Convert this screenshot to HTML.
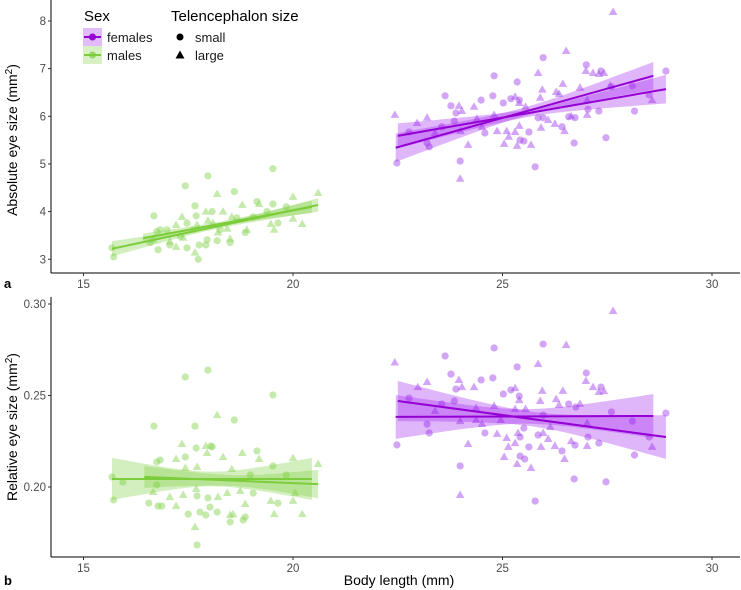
<!DOCTYPE html>
<html><head><meta charset="utf-8"><style>
html,body{margin:0;padding:0;background:#fff;}
svg{display:block;font-family:"Liberation Sans",sans-serif;}
</style></head><body>
<svg id="chart" width="741" height="590" viewBox="0 0 741 590" xmlns="http://www.w3.org/2000/svg">
<g id="legend">
  <text x="84" y="21" font-size="15" fill="#000">Sex</text>
  <g>
    <rect x="83" y="28" width="19" height="18" fill="#a020f0" fill-opacity="0.3"/>
    <line x1="84" y1="37" x2="101" y2="37" stroke="#9400d3" stroke-width="2"/>
    <circle cx="92.5" cy="37" r="3.5" fill="#9400d3"/>
    <text x="107" y="42" font-size="13" fill="#1a1a1a">females</text>
  </g>
  <g>
    <rect x="83" y="46" width="19" height="18" fill="#7ccd3c" fill-opacity="0.3"/>
    <line x1="84" y1="55" x2="101" y2="55" stroke="#7ccd3c" stroke-width="2"/>
    <circle cx="92.5" cy="55" r="3.5" fill="#7ccd3c" fill-opacity="0.7"/>
    <text x="107" y="60" font-size="13" fill="#1a1a1a">males</text>
  </g>
  <text x="171" y="21" font-size="15" fill="#000">Telencephalon size</text>
  <g>
    <circle cx="180" cy="37" r="3.5" fill="#000"/>
    <text x="195" y="42" font-size="13" fill="#1a1a1a">small</text>
  </g>
  <g>
    <polygon points="180,50.5 184.5,58.5 175.5,58.5" fill="#000"/>
    <text x="195" y="60" font-size="13" fill="#1a1a1a">large</text>
  </g>
</g>
<text x="4" y="288" font-size="13" font-weight="bold">a</text>
<text x="4" y="585" font-size="13" font-weight="bold">b</text>
<text transform="translate(17,140) rotate(-90)" text-anchor="middle" font-size="14" fill="#000">Absolute eye size (mm<tspan dy="-5" font-size="10">2</tspan><tspan dy="5">)</tspan></text>
<text transform="translate(17,427) rotate(-90)" text-anchor="middle" font-size="14" fill="#000">Relative eye size (mm<tspan dy="-5" font-size="10">2</tspan><tspan dy="5">)</tspan></text>
<text x="399" y="585" text-anchor="middle" font-size="14" fill="#000">Body length (mm)</text>
</svg>
<script>
// ---------- data ----------
const xTicks = [15, 20, 25, 30];
const yTicksTop = [3, 4, 5, 6, 7, 8];
const yTicksBot = [0.20, 0.25, 0.30];
const yTickLabelsBot = ["0.20", "0.25", "0.30"];

// top panel (absolute eye size)
const femSmallTopX = [22.48,22.77,23.2,23.25,23.55,23.63,23.77,23.85,23.89,23.99,24.49,24.58,24.77,24.8,25.02,25.2,25.35,25.4,25.42,25.51,25.63,25.78,25.85,25.97,25.97,26.42,26.58,26.71,26.73,27,27.04,27.3,27.35,27.47,27.6,28.1,28.15,28.5,28.9];
const femSmallTopY = [5.02,5.67,5.44,5.36,5.78,6.43,6.22,5.9,6.07,5.06,6.34,5.65,6.43,6.85,6.28,6.37,6.72,6.34,5.5,5.48,5.67,4.94,5.97,7.23,5.97,5.78,5.99,5.44,5.97,7.08,6.15,6.11,6.95,5.55,6.62,6.64,6.11,6.45,6.95];
const femLargeTopX = [22.43,22.96,23.2,23.39,23.96,24.03,24.0,24.18,23.99,24.32,24.39,24.51,24.8,24.87,25.04,25.1,25.15,25.3,25.3,25.35,25.4,25.4,25.55,25.68,25.85,25.9,25.95,25.92,26.09,26.25,26.28,26.35,26.44,26.48,26.52,26.64,26.85,26.99,27.02,27.02,27.16,27.3,27.42,27.64,27.57,28.57];
const femLargeTopY = [6.03,5.86,5.97,5.65,6.22,6.11,5.69,5.4,4.69,6.2,5.95,5.78,6.03,5.69,5.42,5.69,5.57,5.67,6.41,5.38,6.28,5.8,6.2,5.4,6.91,6.39,6.56,5.76,5.92,5.84,6.51,6.47,6.68,5.69,7.37,6.0,6.6,6.95,6.34,6.03,6.91,6.89,6.91,8.19,6.64,6.34];
const malSmallTopX = [15.68,15.72,16.68,17.43,17.66,17.97,18.6,19.52,19.14,17.69,18.07,16.83,16.75,16.59,16.78,17.06,17.47,17.76,17.92,17.95,18.19,18.5,18.86,17.74,19.05,19.52,19.64,19.84,17.47,18.26,17.31,18.66,19.38,16.99];
const malSmallTopY = [3.24,3.05,3.91,4.54,4.12,4.75,4.42,4.9,4.21,3.91,4.0,3.62,3.58,3.35,3.2,3.3,3.24,3.3,3.3,3.41,3.39,3.35,3.56,3.0,3.89,4.16,3.76,4.1,3.76,3.62,3.48,3.87,4.0,3.62];
const malLargeTopX = [18.19,17.35,17.21,17.92,18.33,18.54,18.79,19.19,20.0,20.6,20.22,20.0,19.55,19.47,18.43,18.21,18.5,17.66,17.21,17.06,17.38,17.71,17.97,17.59,18.9,16.66,18.09];
const malLargeTopY = [4.37,3.89,3.72,4.0,4.0,3.89,4.14,4.16,4.31,4.39,3.74,3.85,3.62,3.74,3.64,3.56,3.43,3.14,3.26,3.37,3.45,3.72,3.81,3.62,3.62,3.41,3.76];

// bottom panel (relative eye size)
const femSmallBotX = [22.48,22.77,23.2,23.25,23.55,23.63,23.77,23.85,23.89,23.99,24.49,24.58,24.77,24.8,25.02,25.2,25.35,25.4,25.42,25.42,25.51,25.53,25.63,25.78,25.85,25.97,25.97,26.42,26.58,26.71,26.73,26.75,27,27.04,27.3,27.35,27.47,27.6,28.1,28.15,28.5,28.9];
const femSmallBotY = [0.223,0.2486,0.2344,0.2295,0.2454,0.2716,0.2617,0.247,0.2535,0.2115,0.2585,0.2295,0.2596,0.276,0.2508,0.253,0.2656,0.2497,0.2273,0.2169,0.2322,0.2153,0.2219,0.1923,0.2284,0.2781,0.2393,0.2197,0.2454,0.2044,0.2229,0.2437,0.2623,0.2273,0.224,0.2546,0.2028,0.241,0.236,0.2175,0.2273,0.2404];
const femLargeBotX = [22.43,22.98,23.2,23.39,23.96,24.03,23.99,24.18,23.99,24.32,24.37,24.37,24.51,24.8,24.87,24.96,25.04,25.1,25.14,25.3,25.3,25.35,25.4,25.37,25.3,25.55,25.68,25.85,25.9,25.95,25.97,25.92,26.09,26.14,26.25,26.28,26.35,26.44,26.48,26.52,26.64,26.85,26.99,27.02,27.02,27.16,27.3,27.42,27.64,28.57];
const femLargeBotY = [0.268,0.2546,0.2574,0.2415,0.2585,0.2546,0.236,0.2235,0.1956,0.2546,0.2432,0.2366,0.2344,0.2443,0.229,0.2366,0.2164,0.2268,0.2219,0.224,0.254,0.2126,0.2475,0.2295,0.2426,0.2426,0.2104,0.2672,0.247,0.2525,0.2295,0.2219,0.2262,0.2328,0.2224,0.248,0.2448,0.2525,0.2153,0.2776,0.2251,0.2454,0.2579,0.235,0.2224,0.2546,0.2519,0.2524,0.2962,0.2219];
const malSmallBotX = [15.68,15.72,15.94,16.68,17.43,17.97,17.66,18.6,19.52,16.75,16.83,17.43,17.69,18.07,16.56,16.78,16.87,17.5,17.78,17.92,18.02,18.19,18.5,18.81,18.86,17.71,17.71,17.97,19.05,19.14,19.64,19.52,19.84,18.04,18.98,16.75];
const malSmallBotY = [0.2055,0.1929,0.2027,0.2333,0.2601,0.2639,0.2333,0.2366,0.2503,0.2137,0.2148,0.2164,0.2213,0.2219,0.1912,0.1896,0.1896,0.1852,0.1863,0.1847,0.189,0.1863,0.1809,0.182,0.1836,0.1683,0.1951,0.194,0.1967,0.2197,0.1912,0.2115,0.2066,0.2224,0.2066,0.2011];
const malLargeBotX = [18.19,17.35,17.21,17.92,17.95,18.33,18.54,18.79,19.19,20.0,20.6,20.22,20.0,19.55,19.47,18.43,18.21,18.5,17.66,17.21,17.06,17.38,17.71,17.69,18.74,16.66,17.43,18.86,20.05,18.57];
const malLargeBotY = [0.2393,0.2235,0.2153,0.2224,0.2186,0.2164,0.2098,0.2186,0.2153,0.2158,0.2126,0.1852,0.1924,0.1852,0.1924,0.1967,0.1945,0.1847,0.1781,0.1896,0.1945,0.1956,0.2109,0.1989,0.1978,0.1973,0.2104,0.1907,0.1967,0.1852];

// fits: x range, y at ends, CI half-widths [left, middle, right]
const fitTopFemLargeX = [22.45, 28.6];  const fitTopFemLargeY = [5.34, 6.85];  const fitTopFemLargeHW = [0.3, 0.09, 0.29];
const fitTopFemSmallX = [22.5, 28.9];   const fitTopFemSmallY = [5.59, 6.57];  const fitTopFemSmallHW = [0.26, 0.08, 0.3];
const fitTopMalSmallX = [15.68, 20.6];  const fitTopMalSmallY = [3.22, 4.14];  const fitTopMalSmallHW = [0.16, 0.05, 0.14];
const fitTopMalLargeX = [16.42, 20.45]; const fitTopMalLargeY = [3.44, 4.1];   const fitTopMalLargeHW = [0.1, 0.05, 0.13];
const fitBotFemLargeX = [22.45, 28.6];  const fitBotFemLargeY = [0.2383, 0.2388]; const fitBotFemLargeHW = [0.012, 0.004, 0.012];
const fitBotFemSmallX = [22.5, 28.9];   const fitBotFemSmallY = [0.247, 0.2273];  const fitBotFemSmallHW = [0.011, 0.004, 0.012];
const fitBotMalSmallX = [15.68, 20.45]; const fitBotMalSmallY = [0.2044, 0.2044]; const fitBotMalSmallHW = [0.0115, 0.004, 0.0115];
const fitBotMalLargeX = [16.45, 20.6];  const fitBotMalLargeY = [0.2055, 0.2016]; const fitBotMalLargeHW = [0.006, 0.003, 0.0078];

// ---------- drawing ----------
const NS = "http://www.w3.org/2000/svg";
const svg = document.getElementById("chart");
const PURPLE = "#9400d3", PURPLE_PT = "#a64cf0", GREEN = "#7ccd3c", GREEN_PT = "#8cd65a";
const X0 = 51, X1 = 740;
function sx(v){ return 83.5 + (v - 15) * 41.9; }
function syTop(v){ return 21 + (8 - v) * 47.65; }
function syBot(v){ return 304 + (0.30 - v) * 1830; }
function mk(tag, attrs){ const e = document.createElementNS(NS, tag); for (const k in attrs) e.setAttribute(k, attrs[k]); return e; }

function axes(sy, yTop, yBottom, ticks, labels, nameKey){
  const g = mk("g", {});
  
  
  g.appendChild(mk("line", {x1: X0, y1: yTop, x2: X0, y2: yBottom, stroke: "#000", "stroke-width": 1}));
  g.appendChild(mk("line", {x1: X0, y1: yBottom, x2: X1, y2: yBottom, stroke: "#000", "stroke-width": 1}));
  ticks.forEach((t, i) => {
    const y = sy(t);
    g.appendChild(mk("line", {x1: X0 - 3, y1: y, x2: X0, y2: y, stroke: "#333"}));
    const tx = mk("text", {x: X0 - 5, y: y + 4, "text-anchor": "end", "font-size": 11.5, fill: "#4d4d4d"});
    
    
    tx.textContent = labels[i]; g.appendChild(tx);
  });
  xTicks.forEach(t => {
    const x = sx(t);
    g.appendChild(mk("line", {x1: x, y1: yBottom, x2: x, y2: yBottom + 3, stroke: "#333"}));
    const tx = mk("text", {x: x, y: yBottom + 15, "text-anchor": "middle", "font-size": 11.5, fill: "#4d4d4d"});
    
    
    tx.textContent = t; g.appendChild(tx);
  });
  svg.appendChild(g);
}

function band(fx, fy, hw, sy, color, name){
  const xm = (fx[0] + fx[1]) / 2, slope = (fy[1] - fy[0]) / (fx[1] - fx[0]);
  const n = 30, up = [], lo = [];
  for (let i = 0; i <= n; i++){
    const x = fx[0] + (fx[1] - fx[0]) * i / n;
    const hEnd = x < xm ? hw[0] : hw[2];
    const c = (hEnd * hEnd - hw[1] * hw[1]) / Math.pow((fx[1] - fx[0]) / 2, 2);
    const h = Math.sqrt(hw[1] * hw[1] + c * (x - xm) * (x - xm));
    const y = fy[0] + slope * (x - fx[0]);
    up.push(sx(x).toFixed(1) + "," + sy(y + h).toFixed(1));
    lo.unshift(sx(x).toFixed(1) + "," + sy(y - h).toFixed(1));
  }
  const p = mk("polygon", {points: up.concat(lo).join(" "), fill: color, "fill-opacity": 0.33});
  
  
  svg.appendChild(p);
}
function fitLine(fx, fy, sy, color, name){
  const l = mk("line", {x1: sx(fx[0]), y1: sy(fy[0]), x2: sx(fx[1]), y2: sy(fy[1]), stroke: color, "stroke-width": 2});
  
  
  svg.appendChild(l);
}
function points(xs, ys, sy, color, shape, name){
  const g = mk("g", {fill: color, "fill-opacity": 0.5});
  
  
  xs.forEach((x, i) => {
    const px = sx(x), py = sy(ys[i]);
    let e;
    if (shape === "circle") e = mk("circle", {cx: px, cy: py, r: 3.6});
    else e = mk("polygon", {points: `${px},${py - 4.5} ${px + 4.3},${py + 3} ${px - 4.3},${py + 3}`});
    
    
    g.appendChild(e);
  });
  svg.appendChild(g);
}

axes(syTop, 0, 273, yTicksTop, yTicksTop.map(String), "top");
axes(syBot, 297, 557, yTicksBot, yTickLabelsBot, "bottom");

// top panel
points(femSmallTopX, femSmallTopY, syTop, PURPLE_PT, "circle", "top-females-small");
points(femLargeTopX, femLargeTopY, syTop, PURPLE_PT, "triangle", "top-females-large");
points(malSmallTopX, malSmallTopY, syTop, GREEN_PT, "circle", "top-males-small");
points(malLargeTopX, malLargeTopY, syTop, GREEN_PT, "triangle", "top-males-large");
band(fitTopFemLargeX, fitTopFemLargeY, fitTopFemLargeHW, syTop, "#a020f0", "top-females-large");
band(fitTopFemSmallX, fitTopFemSmallY, fitTopFemSmallHW, syTop, "#a020f0", "top-females-small");
band(fitTopMalSmallX, fitTopMalSmallY, fitTopMalSmallHW, syTop, GREEN, "top-males-small");
band(fitTopMalLargeX, fitTopMalLargeY, fitTopMalLargeHW, syTop, GREEN, "top-males-large");
fitLine(fitTopFemLargeX, fitTopFemLargeY, syTop, PURPLE, "top-females-large");
fitLine(fitTopFemSmallX, fitTopFemSmallY, syTop, PURPLE, "top-females-small");
fitLine(fitTopMalSmallX, fitTopMalSmallY, syTop, GREEN, "top-males-small");
fitLine(fitTopMalLargeX, fitTopMalLargeY, syTop, GREEN, "top-males-large");

// bottom panel
points(femSmallBotX, femSmallBotY, syBot, PURPLE_PT, "circle", "bottom-females-small");
points(femLargeBotX, femLargeBotY, syBot, PURPLE_PT, "triangle", "bottom-females-large");
points(malSmallBotX, malSmallBotY, syBot, GREEN_PT, "circle", "bottom-males-small");
points(malLargeBotX, malLargeBotY, syBot, GREEN_PT, "triangle", "bottom-males-large");
band(fitBotFemLargeX, fitBotFemLargeY, fitBotFemLargeHW, syBot, "#a020f0", "bottom-females-large");
band(fitBotFemSmallX, fitBotFemSmallY, fitBotFemSmallHW, syBot, "#a020f0", "bottom-females-small");
band(fitBotMalSmallX, fitBotMalSmallY, fitBotMalSmallHW, syBot, GREEN, "bottom-males-small");
band(fitBotMalLargeX, fitBotMalLargeY, fitBotMalLargeHW, syBot, GREEN, "bottom-males-large");
fitLine(fitBotFemLargeX, fitBotFemLargeY, syBot, PURPLE, "bottom-females-large");
fitLine(fitBotFemSmallX, fitBotFemSmallY, syBot, PURPLE, "bottom-females-small");
fitLine(fitBotMalSmallX, fitBotMalSmallY, syBot, GREEN, "bottom-males-small");
fitLine(fitBotMalLargeX, fitBotMalLargeY, syBot, GREEN, "bottom-males-large");
</script>
</body></html>
